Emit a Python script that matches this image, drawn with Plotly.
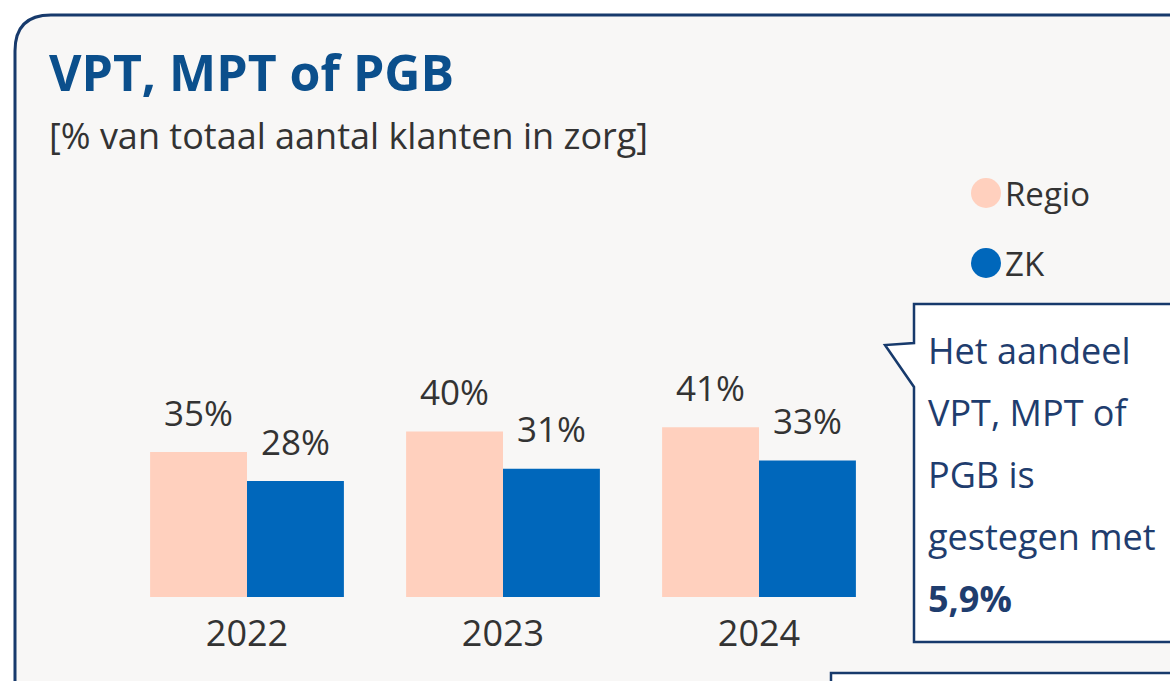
import plotly.graph_objects as go

years = ['2022', '2023', '2024']
regio = [35, 40, 41]
zk = [28, 31, 33]
series_names = ['Regio', 'ZK']
series_colors = ['#FFD0BE', '#0067BB']
title_text = 'VPT, MPT of PGB'
subtitle_text = '[% van totaal aantal klanten in zorg]'
callout_lines = ['Het aandeel', 'VPT, MPT of', 'PGB is', 'gestegen met']
callout_value = '5,9%'

FONT = 'Segoe UI, Open Sans, sans-serif'
NAVY = '#173A6C'
TEXT = '#333333'

W, H = 1170, 681
L, R, T, B = 119, 283, 300, 84
pw, ph = W - L - R, H - T - B


# pixel -> paper coordinates (paper = plot area)
def px(x):
    return (x - L) / pw


def py(y):
    return (H - B - y) / ph


def path(points):
    return 'M ' + ' L '.join(f'{px(x):.5f},{py(y):.5f}' for x, y in points) + ' Z'


fig = go.Figure()

for name, vals, col in zip(series_names, [regio, zk], series_colors):
    fig.add_trace(go.Bar(x=years, y=vals, name=name, marker=dict(color=col, line=dict(width=0)),
                         showlegend=False, hoverinfo='x+y'))

# value labels above the bars (x = category index)
for n, vals in enumerate([regio, zk]):
    for i, v in enumerate(vals):
        fig.add_annotation(x=i, y=v, text=f'{v}%', showarrow=False,
                           xshift=-48.5 if n == 0 else 48.5, yshift=40,
                           font=dict(family=FONT, size=35, color=TEXT))

# card background with rounded corner
r = 36
card = (f'M {px(15):.5f},{py(720):.5f} L {px(15):.5f},{py(15 + r):.5f} '
        f'Q {px(15):.5f},{py(15):.5f} {px(15 + r):.5f},{py(15):.5f} '
        f'L {px(1200):.5f},{py(15):.5f} L {px(1200):.5f},{py(720):.5f} Z')
fig.add_shape(type='path', path=card, xref='paper', yref='paper', layer='below',
              fillcolor='#F8F7F6', line=dict(color=NAVY, width=3))

# callout box with pointer
fig.add_shape(type='path', xref='paper', yref='paper', fillcolor='white',
              line=dict(color=NAVY, width=2.5),
              path=path([(914, 304), (1190, 304), (1190, 642), (914, 642), (914, 387), (885, 345), (914, 343)]))
# second box at the bottom
fig.add_shape(type='path', xref='paper', yref='paper', fillcolor='white',
              line=dict(color=NAVY, width=2.5),
              path=path([(831, 673), (1190, 673), (1190, 720), (831, 720)]))

for i, line in enumerate(callout_lines + [f'<b>{callout_value}</b>']):
    fig.add_annotation(x=px(926), y=py(350 + 62 * i), xref='paper', yref='paper', text=line,
                       showarrow=False, xanchor='left', yanchor='middle',
                       font=dict(family=FONT, size=36, color='#1F3D6E'))

# legend
for i, (name, col) in enumerate(zip(series_names, series_colors)):
    cy = 193 + 70 * i
    fig.add_shape(type='circle', xref='paper', yref='paper', fillcolor=col, line=dict(width=0),
                  x0=px(971), x1=px(1001), y0=py(cy + 15), y1=py(cy - 15))
    fig.add_annotation(x=px(1003), y=py(cy), xref='paper', yref='paper', text=name,
                       showarrow=False, xanchor='left', yanchor='middle',
                       font=dict(family=FONT, size=33, color=TEXT))

# title and subtitle
fig.add_annotation(x=px(47), y=py(72), xref='paper', yref='paper', text=f'<b>{title_text}</b>',
                   showarrow=False, xanchor='left', yanchor='middle',
                   font=dict(family=FONT, size=50, color='#0B4F8C'))
fig.add_annotation(x=px(47), y=py(135), xref='paper', yref='paper', text=subtitle_text,
                   showarrow=False, xanchor='left', yanchor='middle',
                   font=dict(family=FONT, size=36, color=TEXT))

fig.update_layout(width=W, height=H, margin=dict(l=L, r=R, t=T, b=B),
                  paper_bgcolor='white', plot_bgcolor='rgba(0,0,0,0)',
                  barmode='group', bargap=0.243, bargroupgap=0,
                  font=dict(family=FONT, color=TEXT))
fig.update_xaxes(type='category', range=[-0.5, len(years) - 0.5], showline=False, showgrid=False,
                 zeroline=False, ticks='', tickfont=dict(family=FONT, size=36, color=TEXT),
                 ticklabelstandoff=12)
fig.update_yaxes(range=[0, ph / 4.14], visible=False, showgrid=False)

fig.write_html('out.html', config={'displayModeBar': False},
               post_script="document.body.style.margin='0';")
